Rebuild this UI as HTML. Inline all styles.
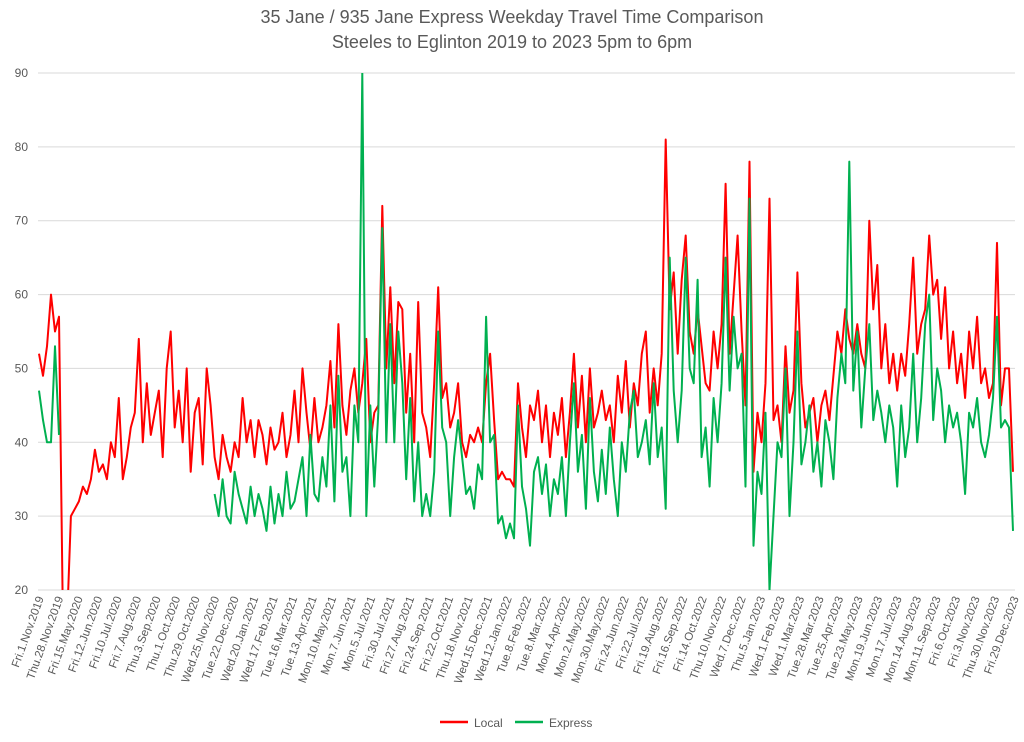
<!DOCTYPE html>
<html><head><meta charset="utf-8"><style>
body{margin:0;background:#fff;}
svg text{font-family:"Liberation Sans",sans-serif;fill:#595959;}
</style></head><body>
<svg id="chart" width="1024" height="737" viewBox="0 0 1024 737">
<defs><clipPath id="plotclip"><rect x="38" y="73" width="978" height="517"/></clipPath></defs>
<text x="512" y="23" text-anchor="middle" font-size="18">35 Jane / 935 Jane Express Weekday Travel Time Comparison</text>
<text x="512" y="48" text-anchor="middle" font-size="18">Steeles to Eglinton 2019 to 2023 5pm to 6pm</text>
<g id="grid"></g><g id="yticks"></g><g id="xticks"></g>
<g id="series" clip-path="url(#plotclip)"></g>
<g>
<line x1="440" y1="722" x2="468" y2="722" stroke="#ff0000" stroke-width="2.5"/>
<text x="474" y="727" font-size="12">Local</text>
<line x1="515" y1="722" x2="543" y2="722" stroke="#00b050" stroke-width="2.5"/>
<text x="549" y="727" font-size="12">Express</text>
</g>
</svg>
<script>
const yTicks=[20,30,40,50,60,70,80,90];
const xLabels=["Fri.1.Nov.2019","Thu.28.Nov.2019","Fri.15.May.2020","Fri.12.Jun.2020","Fri.10.Jul.2020","Fri.7.Aug.2020","Thu.3.Sep.2020","Thu.1.Oct.2020","Thu.29.Oct.2020","Wed.25.Nov.2020","Tue.22.Dec.2020","Wed.20.Jan.2021","Wed.17.Feb.2021","Tue.16.Mar.2021","Tue.13.Apr.2021","Mon.10.May.2021","Mon.7.Jun.2021","Mon.5.Jul.2021","Fri.30.Jul.2021","Fri.27.Aug.2021","Fri.24.Sep.2021","Fri.22.Oct.2021","Thu.18.Nov.2021","Wed.15.Dec.2021","Wed.12.Jan.2022","Tue.8.Feb.2022","Tue.8.Mar.2022","Mon.4.Apr.2022","Mon.2.May.2022","Mon.30.May.2022","Fri.24.Jun.2022","Fri.22.Jul.2022","Fri.19.Aug.2022","Fri.16.Sep.2022","Fri.14.Oct.2022","Thu.10.Nov.2022","Wed.7.Dec.2022","Thu.5.Jan.2023","Wed.1.Feb.2023","Wed.1.Mar.2023","Tue.28.Mar.2023","Tue.25.Apr.2023","Tue.23.May.2023","Mon.19.Jun.2023","Mon.17.Jul.2023","Mon.14.Aug.2023","Mon.11.Sep.2023","Fri.6.Oct.2023","Fri.3.Nov.2023","Thu.30.Nov.2023","Fri.29.Dec.2023"];
const localVals=[52,49,53,60,55,57,15,15,30,31,
32,34,33,35,39,36,37,35,40,38,46,35,38,42,44,54,40,48,41,44,47,38,50,55,42,47,40,50,36,44,46,37,50,45,38,35,41,38,36,40,
38,46,40,43,38,43,41,37,42,39,40,44,38,41,47,40,50,44,39,46,40,42,45,51,42,56,45,41,47,50,44,48,54,40,44,
45,72,50,61,48,59,58,44,52,40,59,44,42,38,48,61,46,48,42,44,48,40,38,41,40,42,40,48,52,43,35,36,35,35,34,48,
42,38,45,43,47,40,45,38,44,41,46,38,44,52,42,49,40,50,42,44,47,43,45,40,49,44,51,42,48,45,52,55,44,50,45,52,81,58,63,52,62,68,55,
52,58,53,48,47,55,50,56,75,52,60,68,55,45,78,36,44,40,48,73,43,45,40,53,44,47,63,48,42,44,46,40,45,47,43,49,55,52,58,54,52,56,
52,50,70,58,64,50,56,48,52,47,52,49,56,65,52,56,58,68,60,62,54,61,50,55,48,52,46,55,50,57,48,50,46,48,67,45,50,50,36];
const expressVals=[47,43,40,40,53,41,null,null,null,null,
null,null,null,null,null,null,null,null,null,null,null,null,null,null,null,null,null,null,null,null,null,null,null,null,null,null,null,null,null,null,null,null,null,null,33,30,35,30,29,36,
33,31,29,34,30,33,31,28,34,29,33,30,36,31,32,35,38,30,41,33,32,38,34,45,32,49,36,38,30,45,40,90,30,45,34,
44,69,40,56,40,55,48,35,46,32,40,30,33,30,36,55,42,40,30,38,43,38,33,34,31,37,35,57,40,41,29,30,27,29,27,45,
34,31,26,36,38,33,37,30,35,33,38,30,40,48,36,41,31,46,36,32,39,33,42,35,30,40,36,44,47,38,40,43,37,48,38,42,31,65,47,40,47,65,50,
48,62,38,42,34,46,40,48,65,47,57,50,52,34,73,26,36,33,44,20,30,40,38,50,30,40,55,37,40,45,36,40,34,43,40,35,46,52,48,78,47,55,
42,50,56,43,47,44,40,45,42,34,45,38,42,52,40,46,56,60,43,50,47,40,45,42,44,40,33,44,42,46,40,38,41,46,57,42,43,42,28];
const NS='http://www.w3.org/2000/svg';
const X0=39,X1=1013,Y0=590,Y1=73,VMIN=20,VMAX=90;
function yScale(v){return Y0-(v-VMIN)/(VMAX-VMIN)*(Y0-Y1);}
function xScale(i,n){return X0+i*(X1-X0)/(n-1);}
const grid=document.getElementById('grid'),yt=document.getElementById('yticks'),xt=document.getElementById('xticks'),ser=document.getElementById('series');
yTicks.forEach(v=>{
 const l=document.createElementNS(NS,'line');
 l.setAttribute('x1',38);l.setAttribute('x2',1015);l.setAttribute('y1',yScale(v));l.setAttribute('y2',yScale(v));
 l.setAttribute('stroke','#d9d9d9');l.setAttribute('stroke-width','1');
 
 
 grid.appendChild(l);
 const t=document.createElementNS(NS,'text');
 t.setAttribute('x',28);t.setAttribute('y',yScale(v)+4);t.setAttribute('text-anchor','end');t.setAttribute('font-size','12');
 t.textContent=v;
 
 
 yt.appendChild(t);
});
xLabels.forEach((s,i)=>{
 const x=40+i*(1015-40)/(xLabels.length-1);
 const t=document.createElementNS(NS,'text');
 t.setAttribute('transform','translate('+(x+4)+',598) rotate(-70)');
 t.setAttribute('text-anchor','end');t.setAttribute('font-size','11.5');
 t.textContent=s;
 
 
 xt.appendChild(t);
});
function drawSeries(vals,color,name){
 const n=vals.length;let d='',pen=false;
 vals.forEach((v,i)=>{
  if(v===null){pen=false;return;}
  d+=(pen?'L':'M')+xScale(i,n).toFixed(1)+','+yScale(v).toFixed(1);pen=true;
 });
 const p=document.createElementNS(NS,'path');
 p.setAttribute('d',d);p.setAttribute('fill','none');p.setAttribute('stroke',color);
 p.setAttribute('stroke-width','2');p.setAttribute('stroke-linejoin','round');
 
 
 ser.appendChild(p);
}
drawSeries(localVals,'#ff0000','local-series-line');
drawSeries(expressVals,'#00b050','express-series-line');
</script>
</body></html>
